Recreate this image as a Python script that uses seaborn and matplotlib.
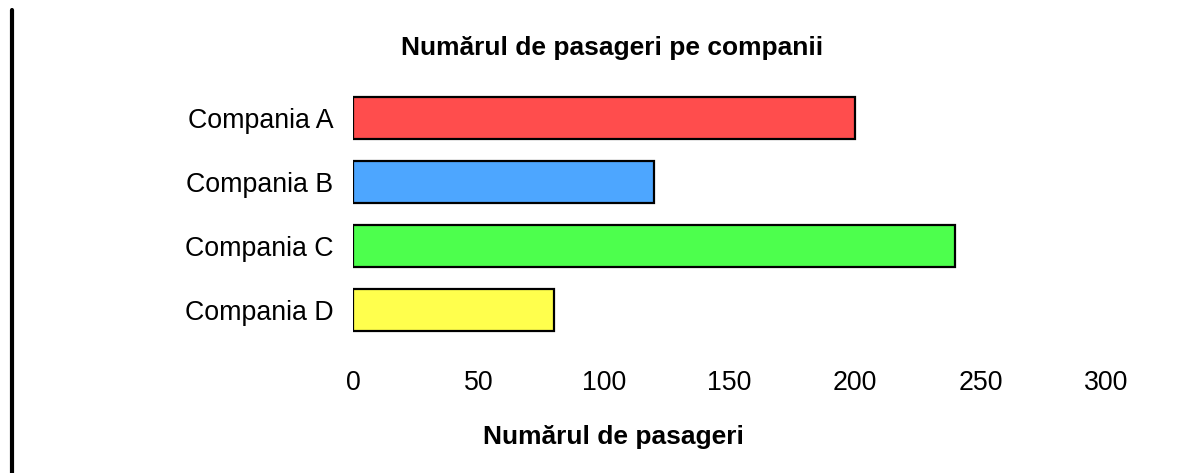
import seaborn as sns
import matplotlib.pyplot as plt
import pandas as pd
from matplotlib.lines import Line2D

companii = ['Compania A', 'Compania B', 'Compania C', 'Compania D']
pasageri = [200, 120, 240, 80]
culori = ['#FF4D4D', '#4DA6FF', '#4DFF4D', '#FFFF4D']
x_ticks = [0, 50, 100, 150, 200, 250, 300]

df = pd.DataFrame({'companie': companii, 'pasageri': pasageri})

sns.set_style('white')
plt.rcParams['font.family'] = ['Liberation Sans', 'DejaVu Sans']
plt.rcParams['text.color'] = 'black'
plt.rcParams['xtick.color'] = 'black'
plt.rcParams['ytick.color'] = 'black'

W, H = 1203, 473
fig = plt.figure(figsize=(W / 100, H / 100), dpi=100)
# axes box in pixels: left 353, right 1106, top 86, bottom 342
ax = fig.add_axes([353 / W, 1 - 342 / H, (1106 - 353) / W, (342 - 86) / H])

sns.barplot(data=df, x='pasageri', y='companie', hue='companie', palette=culori,
            orient='h', width=0.66, edgecolor='black', linewidth=1.6,
            saturation=1, legend=False, ax=ax)

ax.set_xlim(0, 300)
ax.set_ylim(3.5, -0.5)
ax.set_xticks(x_ticks)
ax.set_xticklabels([str(t) for t in x_ticks])
ax.tick_params(axis='x', length=0, pad=20, labelsize=19.3, labelcolor='black')
ax.tick_params(axis='y', length=0, pad=14, labelsize=19.3, labelcolor='black')
sns.despine(ax=ax, left=True, bottom=True)

ax.set_ylabel('')
ax.set_xlabel('')
fig.text(612 / W, 1 - 48 / H, 'Numărul de pasageri pe companii',
         ha='center', va='center', fontsize=19, fontweight='bold', color='black')
fig.text(613 / W, 1 - 437 / H, 'Numărul de pasageri',
         ha='center', va='center', fontsize=19, fontweight='bold', color='black')

# left border line
fig.add_artist(Line2D([12 / W, 12 / W], [0, 1 - 10 / H], color='black',
                      linewidth=3, transform=fig.transFigure))

fig.savefig('out.png', dpi=100)
